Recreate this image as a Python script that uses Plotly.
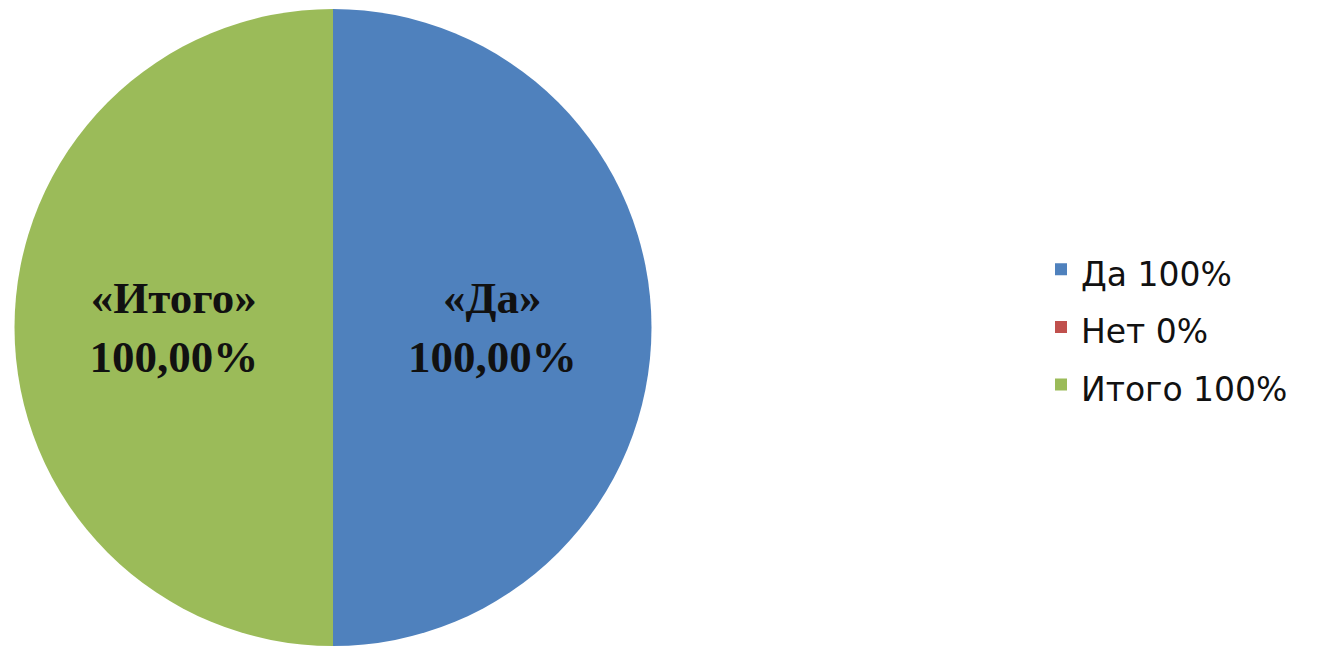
import plotly.graph_objects as go

labels = ["Да 100%", "Нет 0%", "Итого 100%"]
values = [100, 0, 100]
slice_text = ["«Да»<br>100,00%", "", "«Итого»<br>100,00%"]
colors = ["#4F81BD", "#C0504D", "#9BBB59"]

W, H = 1327, 647
OFF = 8  # default page body margin shifts the figure by 8px

legend_labels = ['<span style="font-size:33px">%s</span>' % l for l in labels]

fig = go.Figure(go.Pie(
    labels=legend_labels,
    values=values,
    text=slice_text,
    textinfo="text",
    textposition="inside",
    insidetextorientation="horizontal",
    sort=False,
    direction="clockwise",
    rotation=0,
    marker=dict(colors=colors, line=dict(width=0)),
    textfont=dict(family="Liberation Serif", size=45, color="#111111", weight="bold"),
    domain=dict(x=[(14 - OFF) / W, (652 - OFF) / W],
                y=[1 - (646 - OFF) / H, 1 - (9 - OFF) / H]),
    hoverinfo="skip",
))

fig.update_layout(
    width=W, height=H,
    margin=dict(l=0, r=0, t=0, b=0),
    paper_bgcolor="white",
    plot_bgcolor="white",
    showlegend=True,
    legend=dict(
        x=1033 / W, y=1 - 319 / H, xanchor="left", yanchor="middle",
        font=dict(family="DejaVu Sans", size=42, color="#111111"),
        itemwidth=30,
        traceorder="normal",
    ),
)

fig.write_html("out.html")
